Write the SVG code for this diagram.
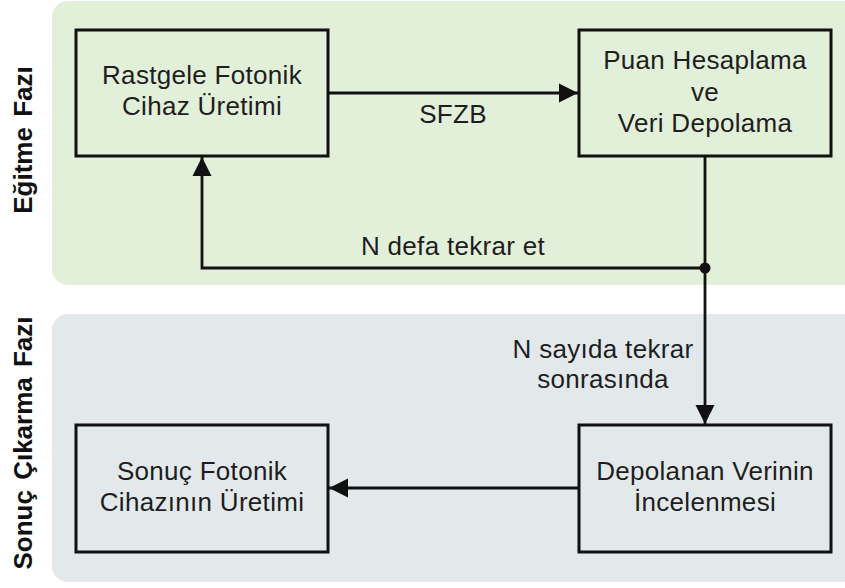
<svg xmlns="http://www.w3.org/2000/svg" width="845" height="588" viewBox="0 0 845 588">
  <style>
    .phase-train { fill: #e2efd9; }
    .phase-result { fill: #e3e9eb; }
    .box { fill: none; stroke: #111; stroke-width: 3; }
    .label { font-family: "Liberation Sans", Arial, sans-serif; font-size: 26px; fill: #1e1e1e; text-anchor: middle; letter-spacing: 0.3px; }
    .phase-label { font-family: "Liberation Sans", Arial, sans-serif; font-size: 26px; font-weight: bold; fill: #111; text-anchor: middle; word-spacing: 3px; }
    .wire { fill: none; stroke: #111; stroke-width: 2.8; }
  </style>
  <defs>
    <marker id="arrow" viewBox="0 0 10 10" refX="10" refY="5" markerUnits="userSpaceOnUse" markerWidth="19" markerHeight="21" orient="auto">
      <path d="M0,0 L10,5 L0,10 Z" fill="#111"/>
    </marker>
  </defs>

  <!-- phase backgrounds -->
  <rect class="phase-train" x="52" y="1" width="820" height="284" rx="16"/>
  <rect class="phase-result" x="52" y="314" width="820" height="268" rx="16"/>

  <g id="phase-training-label">
    <text class="phase-label" transform="translate(32,140) rotate(-90)">Eğitme Fazı</text>
  </g>
  <g id="phase-result-label">
    <text class="phase-label" transform="translate(32,443) rotate(-90)">Sonuç Çıkarma Fazı</text>
  </g>

  <!-- connectors -->
  <g id="connectors">
    <line class="wire" x1="328" y1="93" x2="578" y2="93" marker-end="url(#arrow)"/>
    <text class="label" x="453" y="123">SFZB</text>
    <polyline class="wire" points="705,155 705,268 202,268 202,157" marker-end="url(#arrow)"/>
    <text class="label" x="453" y="255">N defa tekrar et</text>
    <circle cx="705" cy="268" r="5.5" fill="#111"/>
    <line class="wire" x1="705" y1="268" x2="705" y2="424" marker-end="url(#arrow)"/>
    <text class="label" x="603" y="358">N sayıda tekrar</text>
    <text class="label" x="603" y="388">sonrasında</text>
    <line class="wire" x1="578" y1="488" x2="329" y2="488" marker-end="url(#arrow)"/>
  </g>

  <g id="node-random-device">
    <rect class="box" x="76" y="30" width="252" height="126"/>
    <text class="label" x="202" y="84">Rastgele Fotonik</text>
    <text class="label" x="202" y="115">Cihaz Üretimi</text>
  </g>

  <g id="node-score-storage">
    <rect class="box" x="579" y="30" width="252" height="126"/>
    <text class="label" x="705" y="69">Puan Hesaplama</text>
    <text class="label" x="705" y="101">ve</text>
    <text class="label" x="705" y="132">Veri Depolama</text>
  </g>

  <g id="node-final-device">
    <rect class="box" x="76" y="425" width="252" height="127"/>
    <text class="label" x="202" y="480">Sonuç Fotonik</text>
    <text class="label" x="202" y="511">Cihazının Üretimi</text>
  </g>

  <g id="node-data-review">
    <rect class="box" x="579" y="425" width="252" height="127"/>
    <text class="label" x="705" y="480">Depolanan Verinin</text>
    <text class="label" x="705" y="511">İncelenmesi</text>
  </g>
</svg>
